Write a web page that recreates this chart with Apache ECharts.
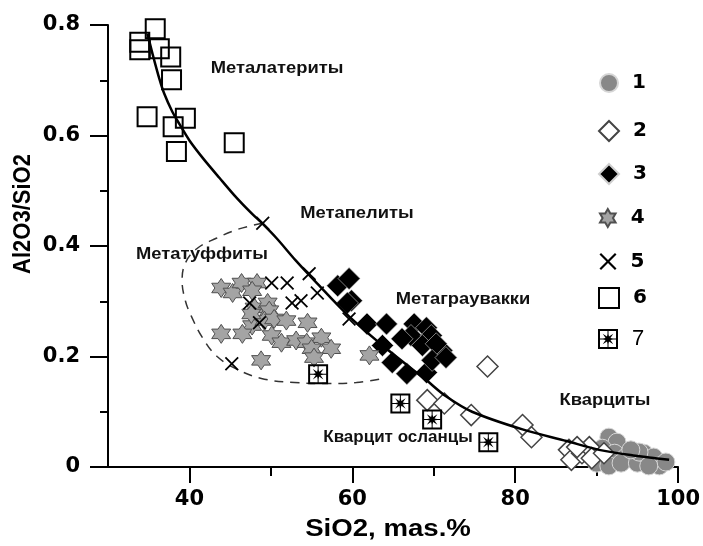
<!DOCTYPE html>
<html>
<head>
<meta charset="utf-8">
<script src="https://cdn.jsdelivr.net/npm/echarts@6/dist/echarts.min.js"></script>
<style>
  html, body { margin: 0; padding: 0; background: #fff; }
  #chart { width: 703px; height: 546px; }
</style>
</head>
<body>
<div id="chart"></div>
<script>
// Axis ticks
const sio2MajorTicks = [40, 60, 80, 100];
const sio2MinorTicks = [50, 70, 90];
const ratioTickStep = 0.2;

// Legend / series names
const groupNames = ['1', '2', '3', '4', '5', '6', '7'];

// Field labels
const fieldNames = ['Металатериты', 'Метапелиты', 'Метатуффиты', 'Метаграувакки', 'Кварциты', 'Кварцит осланцы'];
const axisTitles = { x: 'SiO2, mas.%', y: 'Al2O3/SiO2' };

// Trend curve  [SiO2, Al2O3/SiO2]
const trendCurve = [
  [34.85, 0.784], [35.5, 0.746], [36.3, 0.703], [36.9, 0.676], [37.9, 0.643],
  [38.8, 0.620], [40.0, 0.591], [41.6, 0.560], [43.7, 0.523], [45.8, 0.487],
  [47.7, 0.458], [49.0, 0.440], [50.7, 0.414], [53.1, 0.373], [55.5, 0.335],
  [59.5, 0.274], [64.2, 0.214], [69.1, 0.157], [71.5, 0.128], [74.7, 0.100],
  [80.9, 0.068], [86.3, 0.047], [90.3, 0.031], [94.5, 0.021], [98.9, 0.013]
];

// Outline of the metatuffite field
const tuffiteField = [
  [49.0, 0.441], [46.1, 0.431], [43.3, 0.414], [40.9, 0.395], [39.5, 0.369],
  [39.1, 0.337], [39.5, 0.301], [40.2, 0.274], [41.6, 0.234], [43.4, 0.200],
  [46.1, 0.175], [49.2, 0.159], [52.9, 0.153], [57.2, 0.151], [60.5, 0.153],
  [63.3, 0.159]
];

// 1 — quartzites
const group1 = [
  [91.5, 0.054], [92.5, 0.045], [90.7, 0.034], [92.2, 0.025], [93.6, 0.018],
  [90.0, 0.007], [91.5, 0.002], [93.0, 0.007], [95.0, 0.007], [95.8, 0.025],
  [97.0, 0.018], [95.2, 0.027], [97.7, 0.002], [98.5, 0.009], [96.4, 0.002],
  [94.2, 0.031]
];

// 2
const group2 = [
  [76.6, 0.182], [69.2, 0.121], [71.3, 0.115], [74.6, 0.094], [80.9, 0.076],
  [82.0, 0.054], [86.6, 0.031], [86.9, 0.013], [88.2, 0.025], [89.1, 0.036],
  [89.4, 0.016], [90.9, 0.025], [87.6, 0.036]
];

// 3
const group3 = [
  [58.2, 0.328], [59.6, 0.341], [59.9, 0.301], [59.4, 0.297], [61.8, 0.259],
  [64.2, 0.259], [63.7, 0.220], [64.9, 0.189], [66.7, 0.169], [67.6, 0.259],
  [67.2, 0.238], [66.1, 0.232], [69.1, 0.252], [69.7, 0.238], [68.6, 0.220],
  [71.0, 0.211], [70.3, 0.223], [69.1, 0.171], [69.8, 0.193], [71.5, 0.198]
];

// 4
const group4 = [
  [43.9, 0.324], [45.3, 0.315], [46.4, 0.333], [48.3, 0.333], [47.7, 0.319],
  [48.0, 0.288], [49.6, 0.297], [49.8, 0.283], [47.7, 0.256], [49.2, 0.265],
  [50.4, 0.268], [51.9, 0.265], [54.5, 0.261], [43.9, 0.241], [46.5, 0.241],
  [50.1, 0.238], [51.3, 0.225], [53.1, 0.229], [54.4, 0.225], [56.2, 0.234],
  [55.0, 0.214], [57.4, 0.214], [55.3, 0.198], [48.8, 0.193], [62.1, 0.202],
  [47.6, 0.277]
];

// 5
const group5 = [
  [50.1, 0.333], [52.0, 0.333], [54.7, 0.350], [55.7, 0.315], [52.6, 0.297],
  [53.7, 0.301], [45.2, 0.187], [47.4, 0.297], [48.6, 0.261], [59.6, 0.268],
  [49.0, 0.441]
];

// 6
const group6 = [
  [32.9, 0.802], [35.8, 0.793], [33.9, 0.769], [33.9, 0.755], [36.3, 0.757],
  [37.7, 0.742], [37.8, 0.701], [34.8, 0.634], [38.0, 0.616], [39.5, 0.631],
  [38.4, 0.571], [45.5, 0.587]
];

// 7 — quartzitic schists
const group7 = [
  [55.8, 0.168], [65.9, 0.115], [69.8, 0.086], [76.7, 0.045]
];

// ---- marker shapes ----
function starPath(points, rOut, rIn, cx, cy) {
  let d = '';
  for (let i = 0; i < points * 2; i++) {
    const r = i % 2 === 0 ? rOut : rIn;
    const a = -Math.PI / 2 + i * Math.PI / points;
    d += (i === 0 ? 'M' : 'L') + (cx + r * Math.cos(a)).toFixed(2) + ',' + (cy + r * Math.sin(a)).toFixed(2) + ' ';
  }
  return d + 'Z ';
}
const hexagram = 'path://' + starPath(6, 10, 10 / Math.sqrt(3), 10, 10);
const crossMark = 'path://M1.8,0 L10,8.2 L18.2,0 L20,1.8 L11.8,10 L20,18.2 L18.2,20 L10,11.8 L1.8,20 L0,18.2 L8.2,10 L0,1.8 Z';
const framedStar = 'path://M0,0 L20,0 L20,20 L0,20 Z M2,2 L2,18 L18,18 L18,2 Z ' +
  'M2,9.5 L18,9.5 L18,10.5 L2,10.5 Z M9.5,2 L10.5,2 L10.5,18 L9.5,18 Z ' +
  starPath(8, 7.5, 2.6, 10, 10);

const FONT = '"Liberation Sans", Arial, Helvetica, sans-serif';
const WIDE_FONT = '"DejaVu Sans", "Liberation Sans", sans-serif';

const groups = [
  { data: group1, symbol: 'circle', size: 18, style: { color: '#888888', borderColor: '#d6d6d6', borderWidth: 1 } },
  { data: group2, symbol: 'diamond', size: 21, style: { color: '#ffffff', borderColor: '#444444', borderWidth: 1.5 } },
  { data: group3, symbol: 'diamond', size: 22, style: { color: '#000000', borderColor: '#cfcfcf', borderWidth: 0.6 } },
  { data: group4, symbol: hexagram, size: 19, style: { color: '#a4a4a4', borderColor: '#505050', borderWidth: 1 } },
  { data: group5, symbol: crossMark, size: 14, style: { color: '#000000' } },
  { data: group6, symbol: 'rect', size: 19, style: { color: 'rgba(255,255,255,0)', borderColor: '#000000', borderWidth: 2 } },
  { data: group7, symbol: framedStar, size: 20, style: { color: '#000000' } }
];

const scatterSeries = groups.map((g, i) => ({
  name: groupNames[i],
  type: 'scatter',
  data: g.data,
  symbol: g.symbol,
  symbolSize: g.size,
  itemStyle: Object.assign({ opacity: 1 }, g.style),
  silent: true,
  z: 3
}));

// legend entries stacked on the right
const legendCentersY = [82, 130, 173, 217, 260, 297, 338];
const legendIconSizes = [[18, 18], [20, 20], [20, 20], [18, 18], [17, 17], [20, 20], [20, 20]];
const legends = groupNames.map((n, i) => ({
  data: [n],
  orient: 'vertical',
  left: 608 - legendIconSizes[i][0] / 2,
  top: legendCentersY[i] - legendIconSizes[i][1] / 2,
  itemWidth: legendIconSizes[i][0],
  itemHeight: legendIconSizes[i][1],
  selectedMode: false,
  padding: 0,
  textStyle: {
    fontFamily: i === 6 ? FONT : WIDE_FONT,
    fontSize: i === 6 ? 22 : 20,
    fontWeight: i === 6 ? 'normal' : 'bold',
    color: '#000',
    padding: [0, 0, 0, 9]
  }
}));

const labelFont = 'bold 17px ' + FONT;
const fieldLabelPos = [[277, 68], [357, 213], [202, 254], [463, 299], [605, 400], [398, 437]];
const textEls = fieldNames.map((t, i) => ({
  type: 'text',
  x: fieldLabelPos[i][0],
  y: fieldLabelPos[i][1],
  scaleX: i === 5 ? 1.0 : 1.08,
  silent: true,
  z: 10,
  style: {
    text: t, font: labelFont, fill: '#111',
    align: 'center', verticalAlign: 'middle',
    textAlign: 'center', textVerticalAlign: 'middle'
  }
}));
textEls.push({
  type: 'text', x: 388, y: 530, scaleX: 1.2, silent: true,
  style: { text: axisTitles.x, font: 'bold 23px ' + FONT, fill: '#000',
    align: 'center', verticalAlign: 'middle', textAlign: 'center', textVerticalAlign: 'middle' }
});
textEls.push({
  type: 'text', x: 23, y: 214, rotation: Math.PI / 2, scaleY: 1.12, silent: true,
  style: { text: axisTitles.y, font: 'bold 22px ' + FONT, fill: '#000',
    align: 'center', verticalAlign: 'middle', textAlign: 'center', textVerticalAlign: 'middle' }
});

const axisLineStyle = { color: '#000', width: 2 };

const option = {
  animation: false,
  backgroundColor: '#ffffff',
  grid: { left: 108, right: 23, top: 25, bottom: 79, containLabel: false },
  legend: legends,
  xAxis: [
    {
      type: 'value', min: 30, max: 100, interval: 10, position: 'bottom',
      axisLine: { show: true, onZero: false, lineStyle: axisLineStyle },
      axisTick: { show: true, customValues: sio2MajorTicks, length: 16, lineStyle: axisLineStyle },
      axisLabel: { show: true, customValues: sio2MajorTicks, margin: 22, fontFamily: WIDE_FONT, fontSize: 21, fontWeight: 'bold', color: '#000' },
      splitLine: { show: false }
    },
    {
      type: 'value', min: 30, max: 100, interval: 10, position: 'bottom',
      axisLine: { show: false, onZero: false },
      axisTick: { show: true, customValues: sio2MinorTicks, length: 9, lineStyle: axisLineStyle },
      axisLabel: { show: false },
      splitLine: { show: false }
    }
  ],
  yAxis: {
    type: 'value', min: 0, max: 0.8, interval: ratioTickStep,
    axisLine: { show: true, onZero: false, lineStyle: axisLineStyle },
    axisTick: { show: true, length: 18, lineStyle: axisLineStyle },
    minorTick: { show: true, splitNumber: 2, length: 8, lineStyle: axisLineStyle },
    axisLabel: { margin: 28, fontFamily: WIDE_FONT, fontSize: 21, fontWeight: 'bold', color: '#000' },
    splitLine: { show: false }
  },
  graphic: { elements: textEls },
  series: [
    {
      name: 'field', type: 'line', data: tuffiteField, smooth: 0.4,
      showSymbol: false, symbol: 'none', silent: true, z: 2,
      lineStyle: { color: '#333', width: 1.5, type: [9, 7] }
    },
    ...scatterSeries,
    {
      name: 'trend', type: 'line', data: trendCurve, smooth: 0.3,
      showSymbol: false, symbol: 'none', silent: true, z: 5,
      lineStyle: { color: '#000', width: 2.5 }
    }
  ]
};

const chart = echarts.init(document.getElementById('chart'), null, { renderer: 'canvas' });
chart.setOption(option);
</script>
</body>
</html>
